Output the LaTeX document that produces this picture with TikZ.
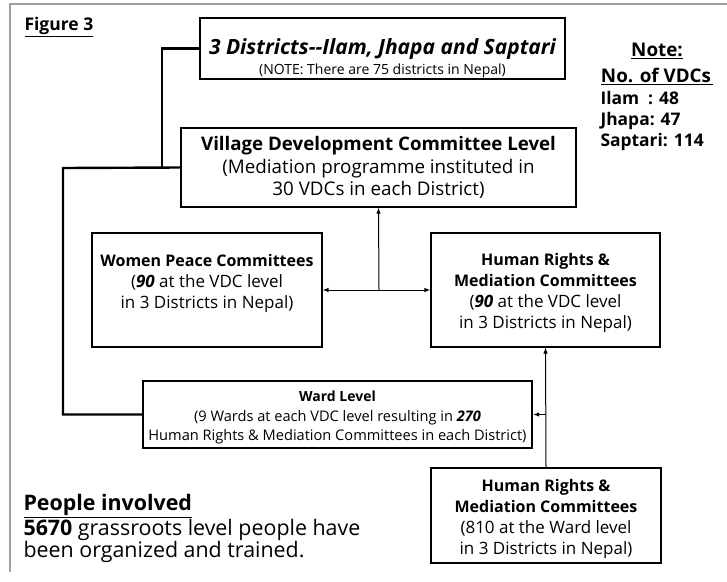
\documentclass[tikz,border=0pt]{standalone}
\usepackage{fontspec}
\setmainfont{Open Sans}
\usetikzlibrary{arrows.meta,calc}

\begin{document}
\begin{tikzpicture}[x=1pt,y=-1pt,
	box/.style={draw, line width=1.1pt, align=center, inner sep=0pt},
	thickbox/.style={box, line width=2.2pt},
	link/.style={line width=2.4pt},
	arr/.style={line width=1pt, -{Latex[length=6pt,width=4.5pt]}}]
	\useasboundingbox (0,0) rectangle (727,581);
	\draw[gray!75, line width=1.8pt] (10,572) -- (10,4) -- (727,4);
	\node[anchor=west, font=\bfseries\fontsize{17.5}{19}\selectfont] (fig) at (21,27) {\underline{Figure 3}};
	\node[thickbox, minimum width=365pt, minimum height=61pt] (dist) at (382.5,48.5)
		{\rule{0pt}{35pt}{\bfseries\itshape\fontsize{21}{23}\selectfont 3 Districts-{}-Ilam, Jhapa and Saptari}\\[3.5pt]
		 {\fontsize{14}{16}\selectfont (NOTE: There are 75 districts in Nepal)}};
	\node[box, minimum width=395pt, minimum height=79pt, font=\fontsize{18.8}{22}\selectfont] (vdc) at (378.5,167.5)
		{{\bfseries\fontsize{18.7}{22}\selectfont Village Development Committee Level}\\[1.5pt]
		 (Mediation programme instituted in\\ 30 VDCs in each District)};
	\node[box, minimum width=230pt, minimum height=114pt, font=\fontsize{17}{21}\selectfont] (women) at (207,290)
		{\rule{0pt}{16pt}{\bfseries\fontsize{16}{21}\selectfont Women Peace Committees}\\ (\textbf{\textit{90}} at the VDC level\\ in 3 Districts in Nepal)\\ \mbox{}};
	\node[box, minimum width=229pt, minimum height=114pt, font=\fontsize{17}{21.3}\selectfont] (hr) at (545.5,290)
		{\rule{0pt}{18pt}{\bfseries\fontsize{16}{21.3}\selectfont Human Rights \&}\\ {\bfseries\fontsize{16}{21.3}\selectfont Mediation Committees}\\ (\textbf{\textit{90}} at the VDC level\\ in 3 Districts in Nepal)};
	\node[thickbox, minimum width=389pt, minimum height=67pt, font=\fontsize{14.6}{19.5}\selectfont] (ward) at (337.5,414.5)
		{\rule{0pt}{17pt}{\bfseries\fontsize{14}{19.5}\selectfont Ward Level}\\ (9 Wards at each VDC level resulting in \textbf{\textit{270}}\\ Human Rights \& Mediation Committees in each District)};
	\node[box, minimum width=230pt, minimum height=95pt, font=\fontsize{17}{21}\selectfont] (hrw) at (546,515.5)
		{\rule{0pt}{19pt}{\bfseries\fontsize{16}{21}\selectfont Human Rights \&}\\ {\bfseries\fontsize{16}{21}\selectfont Mediation Committees}\\ (810 at the Ward level\\ in 3 Districts in Nepal)};
	\node[align=center, font=\bfseries\fontsize{18.8}{26}\selectfont] (notehd) at (657,64)
		{\underline{Note:}\\ \underline{No. of VDCs\hspace{2pt}}};
	\node[anchor=north west, align=left, font=\bfseries\fontsize{17.4}{21}\selectfont] (notelist) at (597,88)
		{Ilam\hspace{9pt}: 48\\ Jhapa: 47\\ Saptari: 114};
	\node[anchor=north west, align=left, font=\fontsize{21.4}{22.5}\selectfont] (people) at (20,491)
		{\underline{\bfseries People involved}\\ \textbf{5670} grassroots level people have\\ been organized and trained.};
	\coordinate (jn1) at (162,168);
	\coordinate (jn2) at (63,168);
	\coordinate (hub) at (379,290);
	\draw[link] (dist.west) -| (jn1);
	\draw[link] (vdc.west) -- (jn2) |- (ward.west);
	\draw[arr] (hub) -- (vdc.south);
	\draw[arr] (hub) -- (women.east);
	\draw[arr] (hub) -- (hr.west);
	\draw[arr] (hrw.north) -- (hr.south);
	\draw[arr] (hrw.north |- ward.east) -- (ward.east);
\end{tikzpicture}
\end{document}
